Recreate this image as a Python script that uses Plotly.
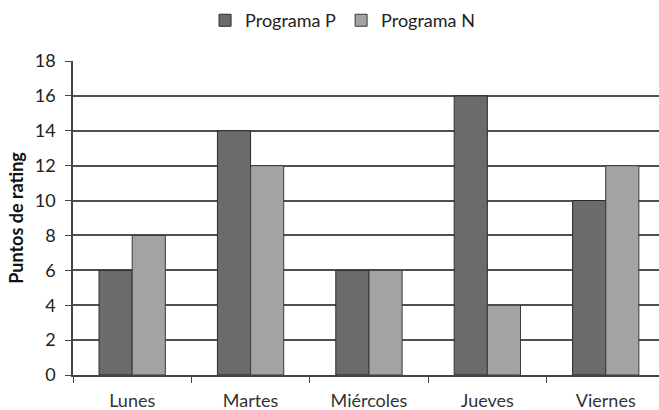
import plotly.graph_objects as go

dias = ["Lunes", "Martes", "Miércoles", "Jueves", "Viernes"]
programa_p = [6, 14, 6, 16, 10]
programa_n = [8, 12, 6, 4, 12]
y_ticks = [0, 2, 4, 6, 8, 10, 12, 14, 16, 18]

FONT = "Lato, 'Open Sans', sans-serif"

fig = go.Figure()
fig.add_trace(go.Bar(
    x=dias, y=programa_p, name="Programa P",
    marker=dict(color="#6b6b6b", line=dict(color="#2a2a2a", width=1)),
))
fig.add_trace(go.Bar(
    x=dias, y=programa_n, name="Programa N",
    marker=dict(color="#a3a3a3", line=dict(color="#3a3a3a", width=1)),
))

fig.update_layout(
    width=659, height=410,
    margin=dict(l=73, r=0, t=61, b=35),
    paper_bgcolor="white", plot_bgcolor="white",
    barmode="group", bargap=0.44, bargroupgap=0.0,
    font=dict(family=FONT, size=17, color="#222222"),
    showlegend=True,
    legend=dict(
        orientation="h", x=0.46, xanchor="center", y=0.995, yanchor="top",
        yref="container", font=dict(size=18, color="#222222"),
        itemwidth=30, bgcolor="rgba(0,0,0,0)",
    ),
    xaxis=dict(
        range=[-0.5, 4.45], showgrid=False, automargin=False,
        showline=True, linecolor="#444444", linewidth=1.5,
        ticks="outside", tickson="boundaries", ticklen=6, tickcolor="#444444",
        tickfont=dict(size=18, color="#333333"), ticklabelstandoff=9,
        fixedrange=True,
    ),
    yaxis=dict(
        range=[0, 18], tickvals=y_ticks, automargin=False,
        showgrid=True, gridcolor="#505050", gridwidth=1.5,
        showline=True, linecolor="#444444", linewidth=1.5,
        ticks="outside", ticklen=6, tickcolor="#444444",
        tickfont=dict(size=18, color="#222222"), ticklabelstandoff=6,
        zeroline=False,
        title=dict(text="<b>Puntos de rating</b>", font=dict(size=18, color="#111111"), standoff=6),
    ),
)

fig.write_html("out.html")
